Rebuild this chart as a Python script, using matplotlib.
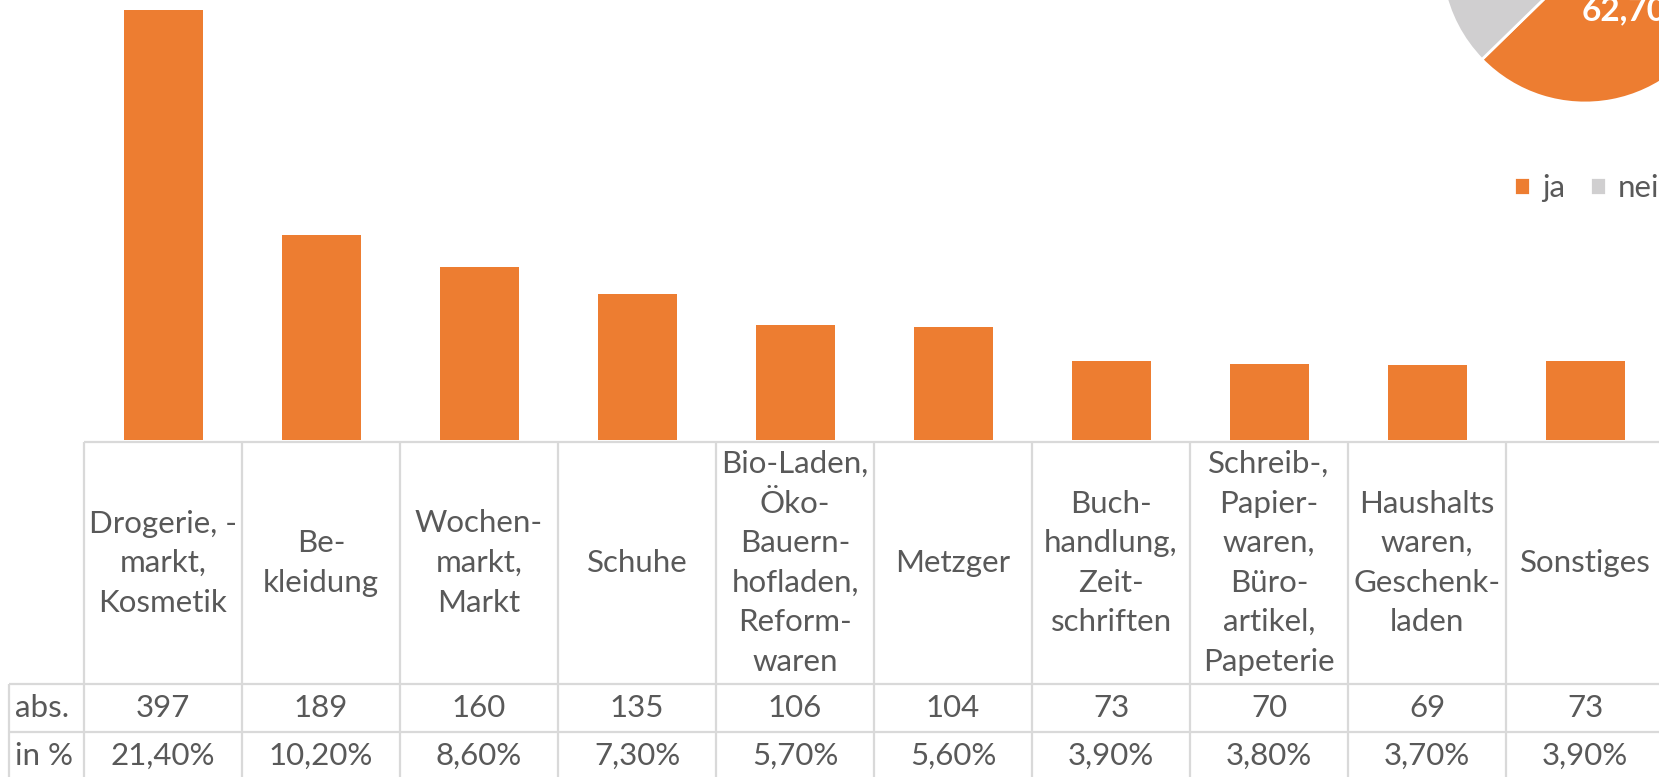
import matplotlib.pyplot as plt

# ---- data ----
categories = ["Drogerie, -\nmarkt,\nKosmetik", "Be-\nkleidung", "Wochen-\nmarkt,\nMarkt",
              "Schuhe", "Bio-Laden,\nÖko-\nBauern-\nhofladen,\nReform-\nwaren", "Metzger",
              "Buch-\nhandlung,\nZeit-\nschriften",
              "Schreib-,\nPapier-\nwaren,\nBüro-\nartikel,\nPapeterie",
              "Haushalts\nwaren,\nGeschenk-\nladen", "Sonstiges"]
abs_values = [397, 189, 160, 135, 106, 104, 73, 70, 69, 73]
pct_labels = ["21,40%", "10,20%", "8,60%", "7,30%", "5,70%", "5,60%",
              "3,90%", "3,80%", "3,70%", "3,90%"]
row_labels = ["abs.", "in %"]
pie_labels = ["ja", "nein"]
pie_values = [62.7, 37.3]
pie_text = "62,70%"

ORANGE = "#ED7D31"
GREY = "#D0CFD0"
TEXT = "#595959"
GRID = "#D9D9D9"
FONT = "Lato"

W, H = 1659, 777
fig = plt.figure(figsize=(W / 100, H / 100), dpi=100)


def px_box(x0, y0, x1, y1):
    # pixel box (top-left origin) -> figure fraction rect
    return [x0 / W, 1 - y1 / H, (x1 - x0) / W, (y1 - y0) / H]


## ============================ Bars ============================ ##
ax = fig.add_axes(px_box(84, 0, 1664, 440))
xs = range(len(abs_values))
ax.bar(xs, abs_values, width=0.5, color=ORANGE)
ax.set_xlim(-0.5, len(abs_values) - 0.5)
ax.set_ylim(0, 406)
ax.axis("off")

## ============================ Table ============================ ##
tab = fig.add_axes(px_box(9, 442, 1664, 777))
n = len(categories)
label_w = 0.475
head_h = 242 / 48
tab.set_xlim(-0.5 - label_w, n - 0.5)
tab.set_ylim(-335 / 48, 0)
tab.axis("off")

lk = dict(color=GRID, lw=1.6, clip_on=False, solid_capstyle="butt")
y_rows = [0, -head_h, -head_h - 1, -head_h - 2]
tab.plot([-0.5, n - 0.5], [y_rows[0]] * 2, **lk)
for y in y_rows[1:]:
    tab.plot([-0.5 - label_w, n - 0.5], [y, y], **lk)
for i in range(n + 1):
    tab.plot([i - 0.5] * 2, [0, y_rows[-1]], **lk)
tab.plot([-0.5 - label_w] * 2, [y_rows[1], y_rows[-1]], **lk)

tk = dict(color=TEXT, fontsize=22.5, family=FONT)
for i, cat in enumerate(categories):
    tab.text(i, -head_h / 2, cat, ha="center", va="center",
             linespacing=1.5, **tk)
    tab.text(i, -head_h - 0.5, str(abs_values[i]), ha="center", va="center", **tk)
    tab.text(i, -head_h - 1.5, pct_labels[i], ha="center", va="center", **tk)
for j, lab in enumerate(row_labels):
    tab.text(-0.5 - label_w + 0.04, -head_h - 0.5 - j, lab, ha="left", va="center", **tk)

## ============================ Pie ============================ ##
pax = fig.add_axes(px_box(1585 - 144, -41 - 144, 1585 + 144, -41 + 144))
wedges, _ = pax.pie(pie_values, colors=[ORANGE, GREY], startangle=90,
                    counterclock=False, radius=1,
                    wedgeprops=dict(edgecolor="white", linewidth=2))
pax.set_xlim(-1, 1)
pax.set_ylim(-1, 1)
pax.set_aspect("equal")
pax.text(-0.02, -0.36, pie_text, ha="left", va="center", color="white",
         fontsize=24, fontweight="bold", family=FONT)

# legend: place, then nudge so the first marker sits where the reference has it
leg_x, leg_y = 1514, 186
leg = fig.legend(wedges, pie_labels, loc="center left",
                 bbox_to_anchor=(leg_x / W, 1 - leg_y / H), ncol=2, frameon=False,
                 prop=dict(family=FONT, size=22.5), labelcolor=TEXT,
                 handlelength=0.5, handleheight=0.5, handletextpad=0.4,
                 columnspacing=0.8, borderpad=0, borderaxespad=0)
fig.canvas.draw()
hb = leg.legend_handles[0].get_window_extent()
dx = leg_x - hb.x0
dy = (H - leg_y) - (hb.y0 + hb.y1) / 2
leg.set_bbox_to_anchor(((leg_x + dx) / W, (H - leg_y + dy) / H),
                       transform=fig.transFigure)

fig.savefig("out.png", dpi=100)
